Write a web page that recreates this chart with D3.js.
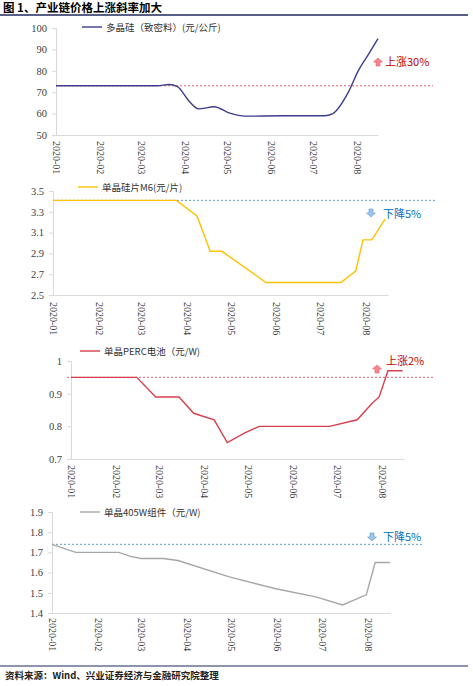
<!DOCTYPE html>
<html><head><meta charset="utf-8">
<script src="https://cdn.jsdelivr.net/npm/d3@7"></script>
<style>body{margin:0;background:#fff}svg{display:block}</style>
</head><body><svg id="c" width="473" height="686"></svg>
<script>
// ---------- data ----------
const titleText = "图 1、产业链价格上涨斜率加大";
const sourceText = "资料来源：Wind、兴业证券经济与金融研究院整理";
const monthLabels = ["2020-01","2020-02","2020-03","2020-04","2020-05","2020-06","2020-07","2020-08"];
const monthStarts = ["2020-01-01","2020-02-01","2020-03-01","2020-04-01","2020-05-01","2020-06-01","2020-07-01","2020-08-01"];
const domainStart = "2020-01-01", domainEnd = "2020-08-16";

const polyName = "多晶硅（致密料）(元/公斤)";
const polyDates = ["2020-01-01","2020-01-20","2020-02-10","2020-03-01","2020-03-13","2020-03-21","2020-03-27","2020-04-04","2020-04-11","2020-04-22","2020-05-03","2020-05-14","2020-06-10","2020-07-09","2020-07-15","2020-07-26","2020-08-02","2020-08-10","2020-08-16"];
const polyValues = [73,73,73,73,73,73.6,72.6,66,62.2,63.2,60.2,58.8,59,59,60,70,80,88.5,95];
const polyTicks = [50,60,70,80,90,100];
const polyRef = 73;
const polyNote = "上涨30%";

const waferName = "单晶硅片M6(元/片)";
const waferDates = ["2020-01-01","2020-03-25","2020-04-08","2020-04-17","2020-04-25","2020-05-25","2020-07-15","2020-07-25","2020-07-30","2020-08-05","2020-08-14"];
const waferValues = [3.41,3.41,3.26,2.92,2.92,2.62,2.62,2.73,3.03,3.03,3.23];
const waferTicks = [2.5,2.7,2.9,3.1,3.3,3.5];
const waferRef = 3.41;
const waferNote = "下降5%";

const cellName = "单晶PERC电池（元/W)";
const cellDates = ["2020-01-01","2020-02-15","2020-02-28","2020-03-15","2020-03-25","2020-04-08","2020-04-17","2020-04-29","2020-05-09","2020-06-26","2020-07-15","2020-07-25","2020-07-30","2020-08-05","2020-08-15"];
const cellValues = [0.95,0.95,0.89,0.89,0.84,0.82,0.75,0.78,0.80,0.80,0.82,0.87,0.89,0.97,0.97];
const cellTicks = [0.7,0.8,0.9,1];
const cellRef = 0.95;
const cellNote = "上涨2%";

const moduleName = "单晶405W组件（元/W)";
const moduleDates = ["2020-01-01","2020-01-17","2020-02-15","2020-02-23","2020-03-01","2020-03-16","2020-03-26","2020-04-29","2020-05-31","2020-06-27","2020-07-15","2020-07-31","2020-08-06","2020-08-16"];
const moduleValues = [1.74,1.70,1.70,1.68,1.67,1.67,1.66,1.58,1.52,1.48,1.44,1.49,1.65,1.65];
const moduleTicks = [1.4,1.5,1.6,1.7,1.8,1.9];
const moduleRef = 1.74;
const moduleNote = "下降5%";

// ---------- layout ----------
const parse = d3.timeParse("%Y-%m-%d");
const svg = d3.select("#c");
const CJK = "'Noto Sans CJK SC', sans-serif";
const SERIF = "'Liberation Serif', 'Times New Roman', serif";

svg.append("text").attr("x",3).attr("y",11.5).attr("font-family",CJK).attr("font-weight","bold")
  .attr("font-size",11.5).attr("fill","#000").text(titleText);
svg.append("line").attr("x1",0).attr("x2",468).attr("y1",15).attr("y2",15).attr("stroke","#1f2a5c").attr("stroke-width",1.5);

svg.append("line").attr("x1",0).attr("x2",468).attr("y1",666).attr("y2",666).attr("stroke","#1f2a5c").attr("stroke-width",1.2);
svg.append("text").attr("x",5).attr("y",679).attr("font-family",CJK).attr("font-size",9.5).attr("font-weight","bold")
  .attr("fill","#222").text(sourceText);

const panels = [
  {name:polyName, dates:polyDates, values:polyValues, ticks:polyTicks, ref:polyRef, note:polyNote, fmt:d3.format("d"),
   color:"#3d3d8f", refColor:"#e06070", refDash:"2,2", up:true, smooth:true,
   x0:56, x1:378, yTop:28, yBot:135, lblTop:141, legX:82, legY:27, refX0:56, refX1:433, arrX:378, arrY:62, noteX:385, noteY:66},
  {name:waferName, dates:waferDates, values:waferValues, ticks:waferTicks, ref:waferRef, note:waferNote, fmt:d3.format(".1f"),
   color:"#ffc000", refColor:"#5b9bd5", refDash:"2,2", up:false, smooth:false,
   x0:53, x1:388, yTop:191, yBot:295, lblTop:302, legX:78, legY:187, refX0:53, refX1:435, arrX:371, arrY:213, noteX:383, noteY:218},
  {name:cellName, dates:cellDates, values:cellValues, ticks:cellTicks, ref:cellRef, note:cellNote, fmt:d => d===1 ? "1" : d3.format(".1f")(d),
   color:"#d6404c", refColor:"#e06070", refDash:"2,2", up:true, smooth:false,
   x0:71, x1:404, yTop:361, yBot:459, lblTop:465, legX:80, legY:351, refX0:67, refX1:433, arrX:377, arrY:369, noteX:386, noteY:365},
  {name:moduleName, dates:moduleDates, values:moduleValues, ticks:moduleTicks, ref:moduleRef, note:moduleNote, fmt:d3.format(".1f"),
   color:"#a6a6a6", refColor:"#5b9bd5", refDash:"2,2", up:false, smooth:false,
   x0:52, x1:390, yTop:512, yBot:613, lblTop:618, legX:80, legY:512, refX0:52, refX1:422, arrX:372, arrY:537, noteX:383, noteY:541}
];

panels.forEach(p => {
  const g = svg.append("g");
  const x = d3.scaleTime().domain([parse(domainStart), parse(domainEnd)]).range([p.x0, p.x1]);
  const y = d3.scaleLinear().domain([p.ticks[0], p.ticks[p.ticks.length-1]]).range([p.yBot, p.yTop]);

  // y axis
  const ya = g.append("g").attr("transform",`translate(${p.x0},0)`)
    .call(d3.axisLeft(y).tickValues(p.ticks).tickFormat(p.fmt).tickSize(4).tickPadding(5));
  ya.select(".domain").attr("stroke","#d9d9d9");
  ya.selectAll(".tick line").attr("stroke","#d9d9d9");
  ya.selectAll("text").attr("font-family",SERIF).attr("font-size",10.5).attr("fill","#404040");

  // x axis
  const xa = g.append("g").attr("transform",`translate(0,${p.yBot})`)
    .call(d3.axisBottom(x).tickValues(monthStarts.map(parse)).tickFormat((d,i)=>monthLabels[i]).tickSize(0).tickSizeOuter(0));
  xa.select(".domain").attr("stroke","#d9d9d9").attr("stroke-width",1.2);
  xa.selectAll("text").attr("font-family",SERIF).attr("font-size",10).attr("fill","#404040")
    .attr("text-anchor","start").attr("dy","0.35em")
    .attr("transform", d => `translate(0,${p.lblTop - p.yBot}) rotate(90)`).attr("y",0).attr("x",0);

  // reference line
  g.append("line").attr("x1",p.refX0).attr("x2",p.refX1).attr("y1",y(p.ref)).attr("y2",y(p.ref))
    .attr("stroke",p.refColor).attr("stroke-width",1).attr("stroke-dasharray",p.refDash);

  // series
  const data = p.dates.map((d,i)=>({d:parse(d), v:p.values[i]}));
  const line = d3.line().x(d=>x(d.d)).y(d=>y(d.v)).curve(p.smooth ? d3.curveMonotoneX : d3.curveLinear);
  g.append("path").datum(data).attr("d",line).attr("fill","none").attr("stroke",p.color).attr("stroke-width",1.4);

  // legend
  g.append("line").attr("x1",p.legX).attr("x2",p.legX+20).attr("y1",p.legY).attr("y2",p.legY).attr("stroke",p.color).attr("stroke-width",1.4);
  g.append("text").attr("x",p.legX+24).attr("y",p.legY+3.5).attr("font-family",CJK).attr("font-size",9.5).attr("fill","#333").text(p.name);

  // arrow annotation
  const ax = p.arrX, ay = p.arrY;
  const arrowPath = p.up
    ? `M${ax},${ay-4} L${ax+4.5},${ay} L${ax+2},${ay} L${ax+2},${ay+4} L${ax-2},${ay+4} L${ax-2},${ay} L${ax-4.5},${ay} Z`
    : `M${ax},${ay+4} L${ax+4.5},${ay} L${ax+2},${ay} L${ax+2},${ay-4} L${ax-2},${ay-4} L${ax-2},${ay} L${ax-4.5},${ay} Z`;
  g.append("path").attr("d",arrowPath)
    .attr("fill", p.up ? "#f4868c" : "#9dc3e6").attr("stroke", p.up ? "#e06070" : "#5b9bd5").attr("stroke-width",0.6);
  g.append("text").attr("x",p.noteX).attr("y",p.noteY).attr("font-family",CJK).attr("font-size",11)
    .attr("fill", p.up ? "#c00000" : "#0070c0").text(p.note);
});
</script>
</body></html>
